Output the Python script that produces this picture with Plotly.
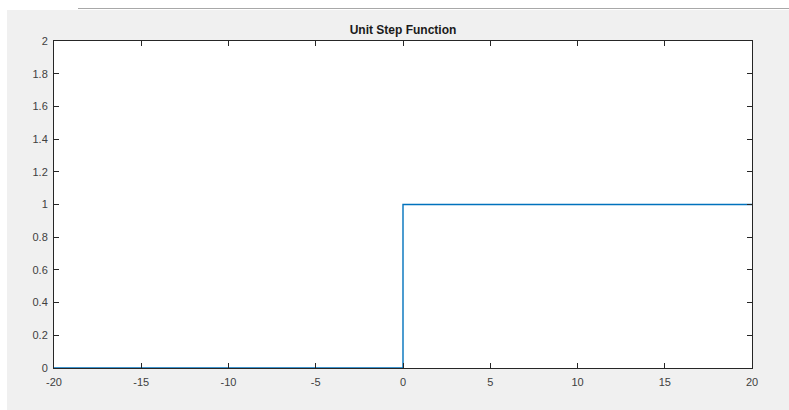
import plotly.graph_objects as go

# data: unit step sampled at the discontinuity
t = [-20, 0, 0, 20]
u = [0, 0, 1, 1]
x_ticks = [-20, -15, -10, -5, 0, 5, 10, 15, 20]
x_tick_labels = ["-20", "-15", "-10", "-5", "0", "5", "10", "15", "20"]
y_ticks = [0, 0.2, 0.4, 0.6, 0.8, 1, 1.2, 1.4, 1.6, 1.8, 2]
y_tick_labels = ["0", "0.2", "0.4", "0.6", "0.8", "1", "1.2", "1.4", "1.6", "1.8", "2"]

W, H = 789, 410
L, R, T, B = 54, 752, 41, 368

def px(xp):
    return (xp - L) / (R - L)

def py(yp):
    return (B - yp) / (B - T)

fig = go.Figure()
fig.add_trace(go.Scatter(x=t, y=u, mode="lines",
                         line=dict(color="#0072BD", width=1.4),
                         showlegend=False, hoverinfo="skip"))

axis_common = dict(showgrid=False, zeroline=False, showline=True,
                   linecolor="#262626", linewidth=1, mirror="ticks",
                   ticks="inside", ticklen=5, tickcolor="#262626",
                   tickfont=dict(family="Liberation Sans, Arial", size=11, color="#404040"))

fig.update_layout(
    width=W, height=H,
    margin=dict(l=L, r=W - R, t=T, b=H - B),
    paper_bgcolor="#f0f0f0",
    plot_bgcolor="white",
    title=dict(text="<b>Unit Step Function</b>", x=(L + R) / 2 / W, xanchor="center",
               y=1 - 30 / H, yanchor="middle", xref="container",
               font=dict(family="Liberation Sans, Arial", size=12, color="#1a1a1a")),
    xaxis=dict(range=[-20, 20], tickvals=x_ticks, ticktext=x_tick_labels,
               ticklabelstandoff=4, **axis_common),
    yaxis=dict(range=[0, 2], tickvals=y_ticks, ticktext=y_tick_labels,
               ticklabelstandoff=3, **axis_common),
    shapes=[
        dict(type="rect", xref="paper", yref="paper", x0=px(0), x1=px(W), y0=py(10), y1=py(0),
             fillcolor="white", line=dict(width=0), layer="below"),
        dict(type="rect", xref="paper", yref="paper", x0=px(0), x1=px(7), y0=py(H), y1=py(0),
             fillcolor="white", line=dict(width=0), layer="below"),
        dict(type="line", xref="paper", yref="paper", x0=px(78), x1=px(W), y0=py(8.5), y1=py(8.5),
             line=dict(color="#a8a8a8", width=1.2)),
    ],
)

fig.write_html("out.html", config={"displayModeBar": False, "staticPlot": True},
               post_script="document.body.style.margin='0';document.body.style.overflow='hidden';")
